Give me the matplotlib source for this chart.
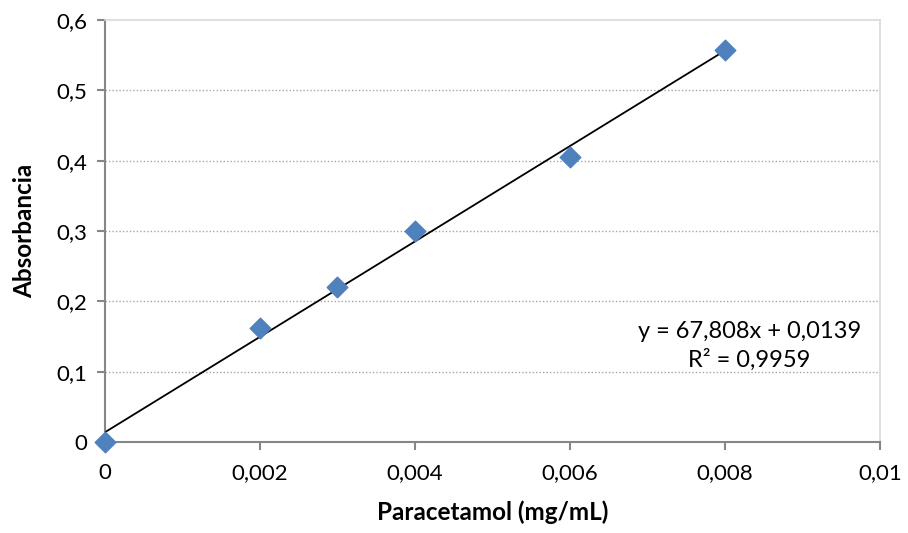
import matplotlib
matplotlib.use("Agg")
import matplotlib.pyplot as plt
import numpy as np

plt.rcParams['font.family'] = ['Lato', 'DejaVu Sans']

conc = [0, 0.002, 0.003, 0.004, 0.006, 0.008]
absorb = [0.0, 0.162, 0.221, 0.300, 0.405, 0.557]
slope = 67.808
intercept = 0.0139
x_ticks = [0, 0.002, 0.004, 0.006, 0.008, 0.01]
x_labels = ['0', '0,002', '0,004', '0,006', '0,008', '0,01']
y_ticks = [0, 0.1, 0.2, 0.3, 0.4, 0.5, 0.6]
y_labels = ['0', '0,1', '0,2', '0,3', '0,4', '0,5', '0,6']

fig = plt.figure(figsize=(9.08, 5.33), dpi=100)
ax = fig.add_axes([0.1156, 0.1707, 0.969 - 0.1156, 0.9625 - 0.1707])

ax.set_xlim(0, 0.01)
ax.set_ylim(0, 0.6)
ax.set_xticks(x_ticks)
ax.set_xticklabels(x_labels)
ax.set_yticks(y_ticks)
ax.set_yticklabels(y_labels)

for y in y_ticks[1:-1]:
    ax.axhline(y, color='#a6a6a6', linestyle=(0, (1, 1.5)), linewidth=1, zorder=0)

for s in ['top', 'right']:
    ax.spines[s].set_color('#d9d9d9')
    ax.spines[s].set_linewidth(1.2)
for s in ['left', 'bottom']:
    ax.spines[s].set_color('#868686')
    ax.spines[s].set_linewidth(1.5)

ax.tick_params(axis='both', direction='out', color='#868686', width=1.5, length=6,
               labelsize=16, colors='#868686', labelcolor='black', pad=7)
ax.tick_params(axis='x', pad=9)

xl = np.array([conc[0], conc[-1]])
ax.plot(xl, slope * xl + intercept, color='black', linewidth=1.3, zorder=3)
ax.scatter(conc, absorb, marker='D', s=110, color='#4f81bd', edgecolors='#4f81bd', zorder=4, clip_on=False)

ax.text(0.00832, 0.137, 'y = 67,808x + 0,0139\nR² = 0,9959', ha='center', va='center',
        fontsize=17, linespacing=1.35)

ax.set_xlabel('Paracetamol (mg/mL)', fontsize=17.5, fontweight='bold', labelpad=13)
ax.set_ylabel('Absorbancia', fontsize=17.5, fontweight='bold', labelpad=14)

fig.savefig('out.png', dpi=100)
